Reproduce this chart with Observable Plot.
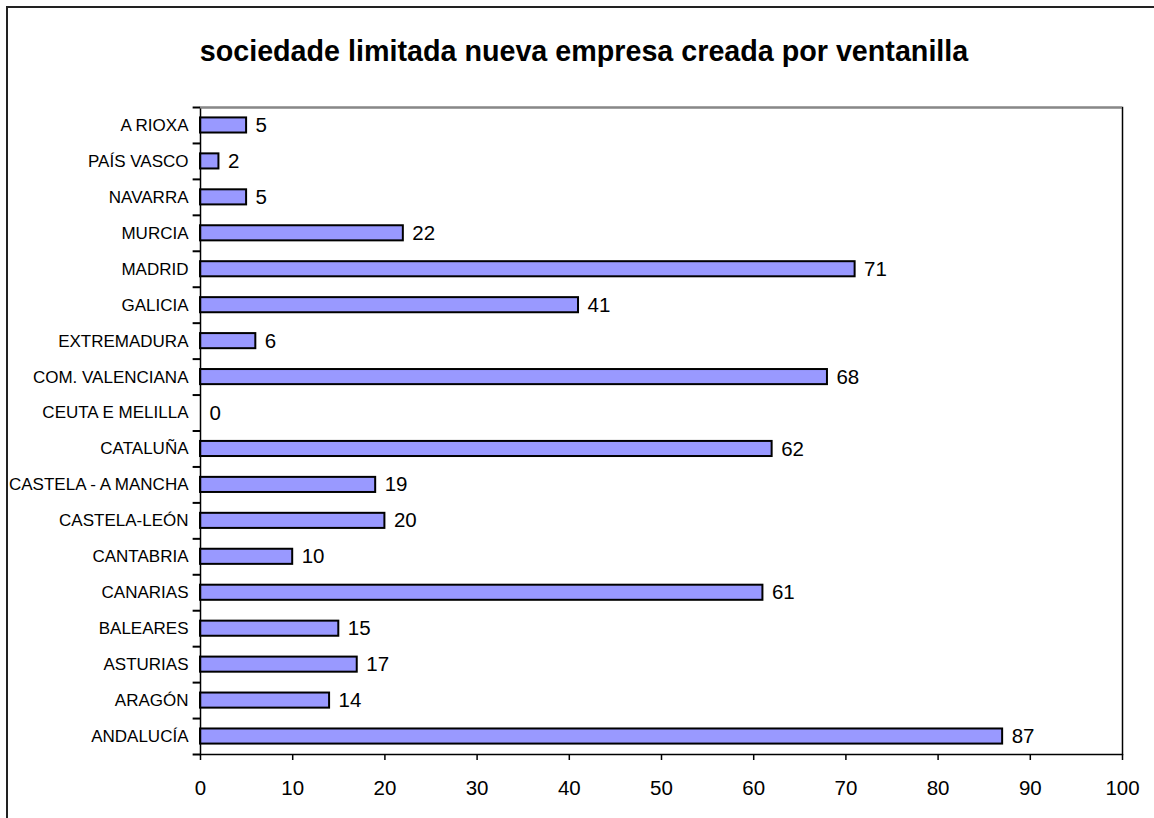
<!DOCTYPE html>
<html>
<head>
<meta charset="utf-8">
<script src="https://cdn.jsdelivr.net/npm/d3@7"></script>
<script src="https://cdn.jsdelivr.net/npm/@observablehq/plot@0.6"></script>
<style>
  html, body { margin: 0; padding: 0; background: #fff; overflow: hidden; }
  #wrap { position: relative; width: 1154px; height: 818px; overflow: hidden; font-family: "Liberation Sans", Arial, sans-serif; }
  #border { position: absolute; left: 6px; top: 6px; width: 1300px; height: 1000px; border-left: 2px solid #222; border-top: 2px solid #222; }
  #title { position: absolute; left: 0; width: 1168px; top: 34px; text-align: center; font-weight: bold; font-size: 28.7px; line-height: 34px; color: #000; }
  #chart { position: absolute; left: 0; top: 0; }
</style>
</head>
<body>
<div id="wrap">
  <div id="border"></div>
  <div id="chart"></div>
  <div id="title">sociedade limitada nueva empresa creada por ventanilla</div>
</div>
<script>
const regions = ["A RIOXA", "PAÍS VASCO", "NAVARRA", "MURCIA", "MADRID", "GALICIA", "EXTREMADURA", "COM. VALENCIANA", "CEUTA E MELILLA", "CATALUÑA", "CASTELA - A MANCHA", "CASTELA-LEÓN", "CANTABRIA", "CANARIAS", "BALEARES", "ASTURIAS", "ARAGÓN", "ANDALUCÍA"];
const counts = [5, 2, 5, 22, 71, 41, 6, 68, 0, 62, 19, 20, 10, 61, 15, 17, 14, 87];
const xTicks = [0, 10, 20, 30, 40, 50, 60, 70, 80, 90, 100];

const data = regions.map((r, i) => ({region: r, value: counts[i]}));
const H = 818, mT = 107, mB = 64;
const step = (H - mT - mB) / regions.length;

const chart = Plot.plot({
  width: 1154,
  height: H,
  marginLeft: 200,
  marginRight: 32,
  marginTop: mT,
  marginBottom: mB,
  style: {fontFamily: "'Liberation Sans', Arial, sans-serif", color: "#000", background: "transparent"},
  x: {domain: [0, 100], ticks: xTicks},
  y: {domain: regions, paddingInner: 0.58, paddingOuter: 0.29, align: 0.5, round: false},
  marks: [
    Plot.barX(data.filter(d => d.value > 0), {y: "region", x: "value", fill: "#9999FF", stroke: "#000", strokeWidth: 2}),
    Plot.text(data, {y: "region", x: "value", text: d => String(d.value), textAnchor: "start", dx: 9, fontSize: 20.5, fill: "#000"}),
    Plot.frame({stroke: "#000", strokeWidth: 1.5}),
    Plot.ruleY([regions[0]], {y: d => d, x1: 0, x2: 100, dy: -step / 2, stroke: "#888", strokeWidth: 2}),
    Plot.ruleY(regions, {y: d => d, x1: -0.8, x2: 0, dy: step / 2, stroke: "#000", strokeWidth: 2}),
    Plot.ruleY([regions[0]], {y: d => d, x1: -0.8, x2: 0, dy: -step / 2, stroke: "#000", strokeWidth: 2}),
    Plot.axisY({tickSize: 0, tickPadding: 12, fontSize: 17, label: null}),
    Plot.axisX({ticks: xTicks, tickSize: 6, tickPadding: 20, fontSize: 20.5, label: null, strokeWidth: 1.5})
  ]
});
document.getElementById("chart").appendChild(chart);
</script>
</body>
</html>
